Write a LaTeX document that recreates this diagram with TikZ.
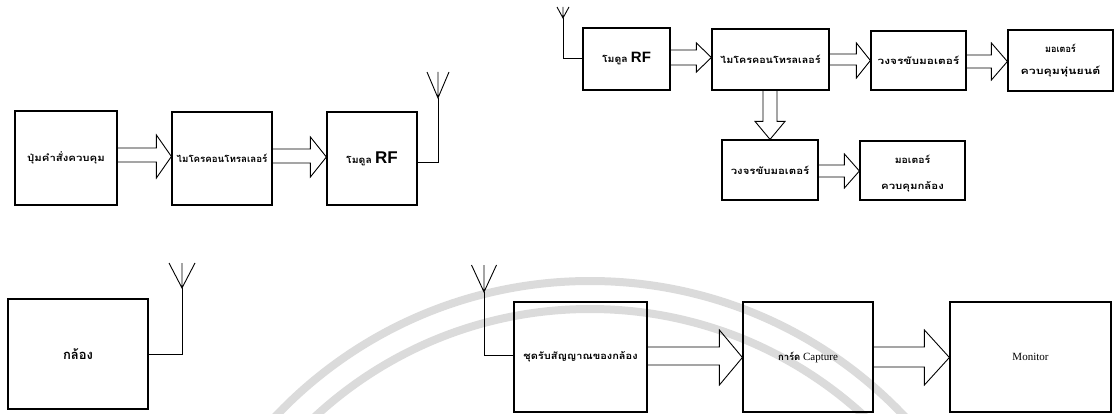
\documentclass[tikz,border=0pt]{standalone}
\usepackage{fontspec}
\usepackage{graphicx}
\setmainfont{Liberation Serif}
\newfontfamily\thai[Script=Thai]{Loma}
\newfontfamily\rfsans{Liberation Sans}
\usetikzlibrary{calc}
\newcommand\sx[2]{\scalebox{#1}[1]{#2}}
\tikzset{
  box/.style={draw, line width=1.2pt, inner sep=0pt, align=center},
  blk/.style={draw, line width=0.9pt, line join=miter},
  ant/.style={draw, line width=0.9pt},
  wm/.style={draw=black!14, line width=8pt},
  wmray/.style={draw=black!14, line width=3pt},
  thA/.style={font=\thai\bfseries\fontsize{9.5}{11}\selectfont},
  thB/.style={font=\thai\bfseries\fontsize{9.5}{22}\selectfont},
}
% horizontal block arrow: from, to, shaft top, shaft bottom, head top, head bottom, head length
\newcommand\hblk[7]{%
  \draw[blk] (#1.east |- 0,#3) -- ($(#2.west |- 0,#3)+(-#7,0)$) -- ($(#2.west |- 0,#5)+(-#7,0)$)
    -- ($(#2.west |- 0,#5)!0.5!(#2.west |- 0,#6)$)
    -- ($(#2.west |- 0,#6)+(-#7,0)$) -- ($(#2.west |- 0,#4)+(-#7,0)$) -- (#1.east |- 0,#4);}
% antenna: stem x, junction y, top y, half spread
\newcommand\antenna[4]{%
  \draw[ant] (#1,#2) -- (#1,#3) (#1-#4,#3) -- (#1,#2) -- (#1+#4,#3);}
\begin{document}
\begin{tikzpicture}[x=1pt,y=-1pt]
\useasboundingbox (0,0) rectangle (1116,414);
% watermark (faint background logo)
\begin{scope}
  \clip (0,0) rectangle (1116,414);
  \coordinate (wc) at (590,714);
  \draw[wm] (wc) circle[radius=433];
  \draw[wm] (wc) circle[radius=405];
  \foreach \a in {65,70,...,115}
    \draw[wmray] ($(wc)+(\a:290)$) -- ($(wc)+(\a:352)$);
\end{scope}
% ---- top-left group
\node[box, thA, minimum width=102pt, minimum height=94pt] (b1) at (66,158) {\sx{1.2}{ปุ่มคำสั่งควบคุม}};
\node[box, thA, minimum width=100pt, minimum height=93pt] (b2) at (222,158.5) {\sx{1.02}{ไมโครคอนโทรลเลอร์}};
\node[box, thA, minimum width=90pt, minimum height=93pt] (b3) at (372,158.5) {\sx{1.1}{โมดูล} {\rfsans\bfseries\fontsize{17}{18}\selectfont RF}};
\hblk{b1}{b2}{148}{162}{135}{178}{15}
\hblk{b2}{b3}{149}{163}{137}{177}{16}
\coordinate (a1) at (438,162);
\draw[ant] (b3.east |- a1) -- (a1) -- (438,98);
\antenna{438}{98}{72}{11}
% ---- top-right group
\node[box, thB, minimum width=87pt, minimum height=62pt] (r1) at (626.5,59) {\sx{1.1}{โมดูล} {\rfsans\bfseries\fontsize{15}{16}\selectfont RF}};
\node[box, thB, minimum width=117pt, minimum height=61pt] (r2) at (770.5,59.5) {\sx{1.13}{ไมโครคอนโทรลเลอร์}};
\node[box, thB, minimum width=95pt, minimum height=59pt] (r3) at (918.5,60.5) {\sx{1.25}{วงจรขับมอเตอร์}};
\node[box, thB, minimum width=105pt, minimum height=61pt] (r4) at (1060.5,60.5) {\sx{0.95}{มอเตอร์}\\\sx{1.3}{ควบคุมหุ่นยนต์}};
\node[box, thB, minimum width=96pt, minimum height=60pt] (r5) at (770,170) {\sx{1.2}{วงจรขับมอเตอร์}};
\node[box, thB, minimum width=105pt, minimum height=59pt, text depth=0pt] (r6) at (912.5,170.5) {\raisebox{-4pt}{\sx{1.1}{มอเตอร์}}\\[4pt]\raisebox{-4pt}{\sx{1.2}{ควบคุมกล้อง}}};
\hblk{r1}{r2}{50}{65}{43}{72}{15}
\hblk{r2}{r3}{54}{65}{43}{78}{14}
\hblk{r3}{r4}{55}{68}{43}{80}{16}
\hblk{r5}{r6}{165}{177}{154}{188}{15}
\draw[blk] (r2.south -| 763,0) -- ($(r5.north -| 763,0)+(0,-18)$) -- ($(r5.north -| 755,0)+(0,-18)$)
  -- (r5.north -| 770,0) -- ($(r5.north -| 785,0)+(0,-18)$) -- ($(r5.north -| 777,0)+(0,-18)$) -- (r2.south -| 777,0);
\coordinate (a2) at (563,58);
\draw[ant] (r1.west |- a2) -- (a2) -- (563,18);
\antenna{563}{18}{7}{6}
% ---- bottom-left
\node[box, font=\thai\bfseries\fontsize{13}{15}\selectfont, minimum width=140pt, minimum height=110pt] (c1) at (78,354) {กล้อง};
\coordinate (a3) at (182,354);
\draw[ant] (c1.east |- a3) -- (a3) -- (182,288);
\antenna{182}{288}{263}{13}
% ---- bottom-right
\node[box, thA, minimum width=133pt, minimum height=110pt] (d1) at (580.5,357) {\sx{1.16}{ชุดรับสัญญาณของกล้อง}};
\node[box, font=\fontsize{11}{13}\selectfont, minimum width=130pt, minimum height=110pt] (d2) at (808,357) {{\thai\bfseries\fontsize{9.5}{11}\selectfont การ์ด} Capture};
\node[box, font=\fontsize{11}{13}\selectfont, minimum width=161pt, minimum height=110pt] (d3) at (1030.5,357) {Monitor};
\hblk{d1}{d2}{347}{365}{330}{385}{23}
\hblk{d2}{d3}{347}{367}{330}{385}{25}
\coordinate (a4) at (484,355);
\draw[ant] (d1.west |- a4) -- (a4) -- (484,292);
\antenna{484}{292}{265}{12.5}
\end{tikzpicture}
\end{document}
